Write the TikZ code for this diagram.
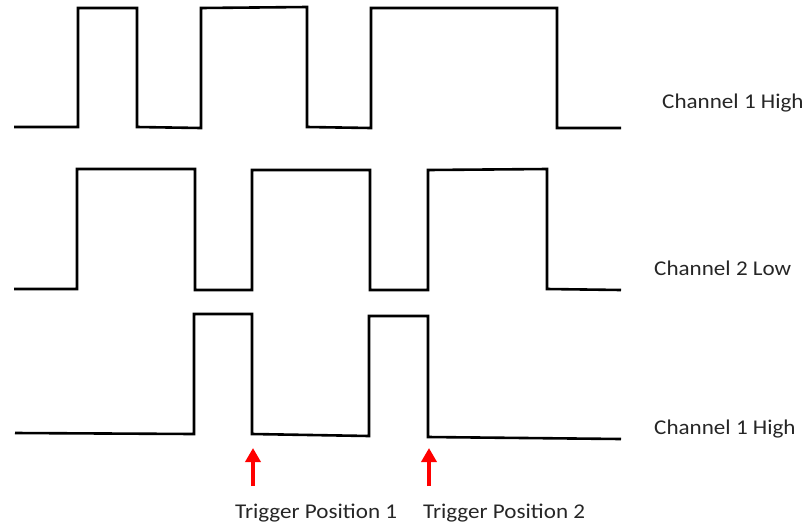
\documentclass[tikz,border=0pt]{standalone}
\usepackage{fontspec}
\setmainfont{Carlito}
\usetikzlibrary{arrows.meta}
\begin{document}
\begin{tikzpicture}[x=1pt,y=-1pt,
  wave/.style={line width=2.6pt,line join=miter,black},
  lbl/.style={anchor=base west,inner sep=0pt,xscale=1.1,font=\fontsize{21}{24}\selectfont,text=black!85},
  trig/.style={red,line width=4pt,-{Triangle[length=14pt,width=15pt]}}]
\useasboundingbox (0,0) rectangle (806,523);
% Channel 1 High (top)
\draw[wave] (14,127) -- (78,127) -- (78,8) -- (137,8) -- (137,127) -- (201,128) -- (201,8) -- (307,7) -- (307,127) -- (371,128) -- (371,8) -- (557,8) -- (557,128) -- (621,128);
% Channel 2 Low
\draw[wave] (14,289) -- (77,289) -- (77,169) -- (195,169) -- (195,290) -- (252,290) -- (252,170) -- (370,170) -- (370,290) -- (428,290) -- (428,170) -- (547,169) -- (547,289) -- (621,290);
% Channel 1 High (bottom)
\draw[wave] (15,433) -- (194,434) -- (194,314) -- (252,314) -- (252,434) -- (369,436) -- (369,316) -- (428,316) -- (428,437) -- (621,439);
% labels
\node[lbl] (l1) at (662,108) {Channel 1 High};
\node[lbl] (l2) at (654,275) {Channel 2 Low};
\node[lbl] (l3) at (654,434) {Channel 1 High};
\node[lbl] (t1) at (235,518) {Trigger Position 1};
\node[lbl] (t2) at (423,518) {Trigger Position 2};
% trigger arrows
\coordinate (a1s) at (253,486);
\coordinate (a1e) at (253,448);
\coordinate (a2s) at (429,486);
\coordinate (a2e) at (429,448);
\draw[trig] (a1s) -- (a1e);
\draw[trig] (a2s) -- (a2e);
\end{tikzpicture}
\end{document}
